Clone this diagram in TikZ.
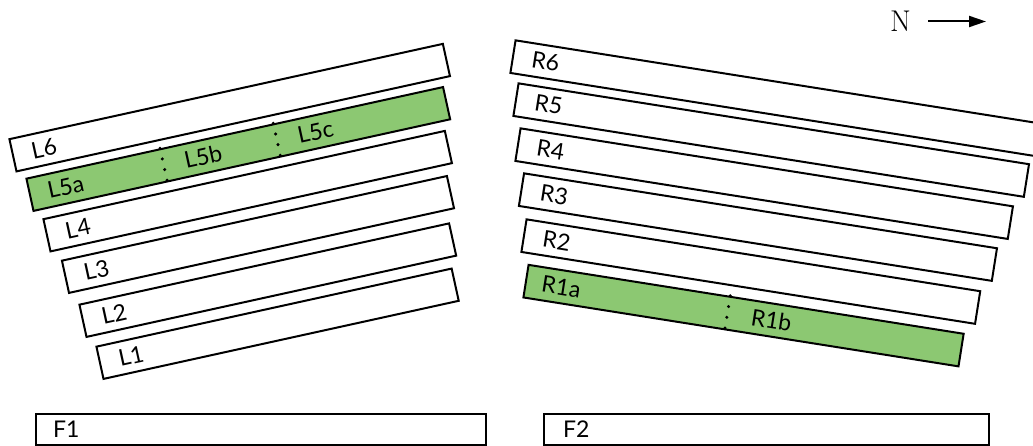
\documentclass[tikz,border=0pt]{standalone}
\usepackage{fontspec}
\setsansfont{Lato}
\usepackage{xcolor}
\usetikzlibrary{calc,arrows.meta}

\definecolor{sectiongreen}{RGB}{140,200,114}

\tikzset{
  strip/.style={draw, line width=2pt, minimum height=33pt, inner sep=0pt, anchor=west},
  tag/.style={anchor=west, inner sep=0pt, font=\sffamily\fontsize{23}{23}\selectfont},
  splitline/.style={line width=3.4pt, line cap=round, dash pattern=on 0pt off 10.9pt},
}

\begin{document}
\begin{tikzpicture}[x=1pt, y=-1pt]
  \useasboundingbox (0,0) rectangle (1033,446);
  \clip (0,0) rectangle (1033,446);

  % left side
  \node[strip, rotate=12.4, minimum width=443.8] (l6) at (12,155.5) {};
  \node[strip, rotate=12.4, minimum width=426.6, fill=sectiongreen] (l5) at (29,195) {};
  \node[strip, rotate=12.4, minimum width=411] (l4) at (46,235.5) {};
  \node[strip, rotate=12.4, minimum width=394.2] (l3) at (64.5,277) {};
  \node[strip, rotate=12.4, minimum width=378.5] (l2) at (82,321) {};
  \node[strip, rotate=12.4, minimum width=363.7] (l1) at (99,363) {};

  \node[tag, rotate=12.4] (l6-txt) at ($(l6.west)!20pt!(l6.east)$) {L6};
  \node[tag, rotate=12.4] (l5a-txt) at ($(l5.west)!19pt!(l5.east)$) {L5a};
  \node[tag, rotate=12.4] (l5b-txt) at ($(l5.west)!159pt!(l5.east)$) {L5b};
  \node[tag, rotate=12.4] (l5c-txt) at ($(l5.west)!275pt!(l5.east)$) {L5c};
  \node[tag, rotate=12.4] (l4-txt) at ($(l4.west)!20pt!(l4.east)$) {L4};
  \node[tag, rotate=12.4] (l3-txt) at ($(l3.west)!20pt!(l3.east)$) {L3};
  \node[tag, rotate=12.4] (l2-txt) at ($(l2.west)!20pt!(l2.east)$) {L2};
  \node[tag, rotate=12.4] (l1-txt) at ($(l1.west)!20pt!(l1.east)$) {L1};

  \draw[splitline] ($(l5.north west)!138pt!(l5.north east)$) -- ($(l5.south west)!138pt!(l5.south east)$);
  \draw[splitline] ($(l5.north west)!254pt!(l5.north east)$) -- ($(l5.south west)!254pt!(l5.south east)$);

  % right side
  \node[strip, rotate=-9, minimum width=536] (r6) at (512,56.5) {};
  \node[strip, rotate=-9, minimum width=516.8] (r5) at (515,99.5) {};
  \node[strip, rotate=-9, minimum width=498.5] (r4) at (517,144.5) {};
  \node[strip, rotate=-9, minimum width=478.8] (r3) at (520.5,189.5) {};
  \node[strip, rotate=-9, minimum width=459.3] (r2) at (523,235.5) {};
  \node[strip, rotate=-9, minimum width=440.5, fill=sectiongreen] (r1) at (525,281) {};

  \node[tag, rotate=-9] (r6-txt) at ($(r6.west)!20pt!(r6.east)$) {R6};
  \node[tag, rotate=-9] (r5-txt) at ($(r5.west)!20pt!(r5.east)$) {R5};
  \node[tag, rotate=-9] (r4-txt) at ($(r4.west)!20pt!(r4.east)$) {R4};
  \node[tag, rotate=-9] (r3-txt) at ($(r3.west)!20pt!(r3.east)$) {R3};
  \node[tag, rotate=-9] (r2-txt) at ($(r2.west)!20pt!(r2.east)$) {R2};
  \node[tag, rotate=-9] (r1a-txt) at ($(r1.west)!17pt!(r1.east)$) {R1a};
  \node[tag, rotate=-9] (r1b-txt) at ($(r1.west)!229pt!(r1.east)$) {R1b};

  \draw[splitline] ($(r1.north west)!205pt!(r1.north east)$) -- ($(r1.south west)!205pt!(r1.south east)$);

  % bottom boxes
  \node[strip, minimum width=450, minimum height=31, anchor=north west] (f1) at (35,413) {};
  \node[strip, minimum width=445, minimum height=31, anchor=north west] (f2) at (543,413) {};
  \node[tag] (f1-txt) at ($(f1.west)+(18,0)$) {F1};
  \node[tag] (f2-txt) at ($(f2.west)+(20,0)$) {F2};

  % north arrow
  \node[inner sep=0pt, font=\fontsize{30}{30}\selectfont] (compass) at (900.5,21.5) {N};
  \coordinate (compass-tip) at (986,21.5);
  \draw[line width=2pt, -{Triangle[length=17pt, width=11pt]}, shorten <=17pt] (compass) -- (compass-tip);
\end{tikzpicture}
\end{document}
